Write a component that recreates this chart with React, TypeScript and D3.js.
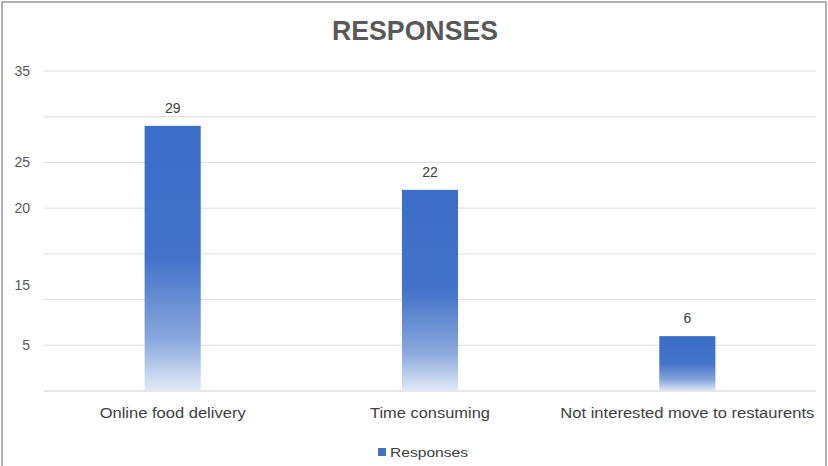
import React, { useEffect } from "react";
import * as d3 from "d3";

const categories = ["Online food delivery", "Time consuming", "Not interested move to restaurents"];
const values = [29, 22, 6];
const gridValues = [0, 5, 10, 15, 20, 25, 30, 35];
const tickLabels = ["35", "25", "20", "15", "5"];
const tickLabelValues = [35, 25, 20, 11.6, 5];
const categoryLabelWidths = [146, 120, 254];
const title = "RESPONSES";
const seriesName = "Responses";

const W = 828;
const H = 466;
const margin = { left: 44, right: 12, top: 71, bottom: 75 };

export default function App() {
  useEffect(() => {
    document.body.style.margin = "0";
  }, []);

  const x = d3
    .scaleBand<string>()
    .domain(categories)
    .range([margin.left, W - margin.right])
    .paddingInner(0.782)
    .paddingOuter(0.391);
  const y = d3.scaleLinear().domain([0, 35]).range([H - margin.bottom, margin.top]);
  const font = "'Liberation Sans', Arial, sans-serif";

  return (
    <svg width={W} height={H} style={{ position: "absolute", left: 0, top: 0, background: "#fff" }}>
      <defs>
        <linearGradient id="barGrad" x1="0" y1="0" x2="0" y2="1">
          <stop offset="0" stopColor="#3C6DC8" />
          <stop offset="0.5" stopColor="#4473C9" />
          <stop offset="0.8" stopColor="#88A6DC" />
          <stop offset="1" stopColor="#E2EAF7" />
        </linearGradient>
      </defs>
      <rect x={2} y={2} width={W - 4} height={H + 10} fill="none" stroke="#8a8a8a" strokeWidth={1.3} />
      <text
        x={415}
        y={40}
        textAnchor="middle"
        fontFamily={font}
        fontWeight="bold"
        fontSize={28}
        fill="#595959"
        textLength={166}
        lengthAdjust="spacingAndGlyphs"
      >
        {title}
      </text>
      {gridValues.map((v) => (
        <line
          key={v}
          x1={margin.left}
          x2={W - margin.right}
          y1={y(v)}
          y2={y(v)}
          stroke={v === 0 ? "#d0d0d0" : "#dcdcdc"}
          strokeWidth={1}
        />
      ))}
      {tickLabels.map((t, i) => (
        <text
          key={t}
          x={30}
          y={y(tickLabelValues[i])}
          dy="0.35em"
          textAnchor="end"
          fontFamily={font}
          fontSize={14}
          fill="#595959"
        >
          {t}
        </text>
      ))}
      {categories.map((c, i) => (
        <g key={c}>
          <rect
            x={x(c)}
            y={y(values[i])}
            width={x.bandwidth()}
            height={y(0) - y(values[i])}
            fill="url(#barGrad)"
          />
          <text
            x={(x(c) as number) + x.bandwidth() / 2}
            y={y(values[i]) - 13}
            textAnchor="middle"
            fontFamily={font}
            fontSize={14}
            fill="#404040"
          >
            {values[i]}
          </text>
          <text
            x={(x(c) as number) + x.bandwidth() / 2}
            y={418}
            textAnchor="middle"
            fontFamily={font}
            fontSize={14}
            fill="#404040"
            textLength={categoryLabelWidths[i]}
            lengthAdjust="spacingAndGlyphs"
          >
            {c}
          </text>
        </g>
      ))}
      <rect x={378} y={448} width={8} height={8} fill="#4472C4" />
      <text x={390} y={457} fontFamily={font} fontSize={13} fill="#404040" textLength={78} lengthAdjust="spacingAndGlyphs">
        {seriesName}
      </text>
    </svg>
  );
}
